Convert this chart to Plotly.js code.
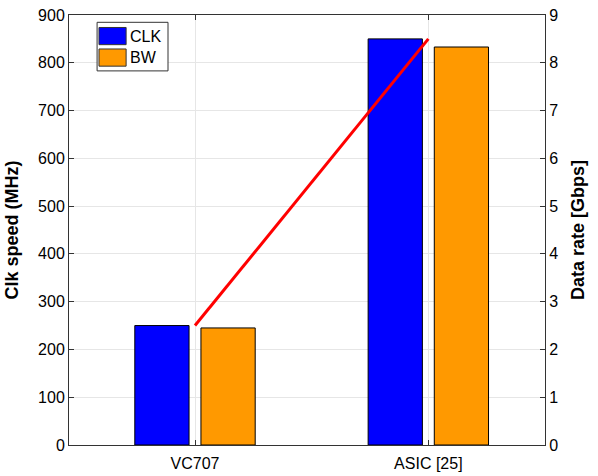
<!DOCTYPE html>
<html><head><meta charset="utf-8">
<script src="https://cdn.plot.ly/plotly-3.0.1.min.js"></script>
<style>body{margin:0;padding:0;background:#fff}#chart{width:598px;height:476px}</style>
</head><body><div id="chart"></div>
<script>
const categories = ['VC707', 'ASIC [25]'];
const seriesNames = ['CLK', 'BW'];
const clkMHz = [250, 850];
const bwMHz = [245, 833];
const dataRateGbps = [2.5, 8.5];
const seriesColors = ['#0000FF', '#FF9900'];
const leftTicks = [0,100,200,300,400,500,600,700,800,900];
const rightTicks = [0,1,2,3,4,5,6,7,8,9];

const font = 'Liberation Sans, Arial, Helvetica, sans-serif';
const traces = [
  {type:'bar', x:categories, y:clkMHz, name:seriesNames[0], marker:{color:seriesColors[0], line:{color:'#000', width:1}}, showlegend:false},
  {type:'bar', x:categories, y:bwMHz, name:seriesNames[1], marker:{color:seriesColors[1], line:{color:'#000', width:1}}, showlegend:false},
  {type:'scatter', mode:'lines', x:categories, y:dataRateGbps, yaxis:'y2', line:{color:'#FF0000', width:3}, showlegend:false}
];

const shapes = [
  {type:'rect', xref:'paper', yref:'paper', x0:0.059, x1:0.208, y0:0.870, y1:0.983, line:{color:'#333', width:1}, fillcolor:'#fff', layer:'above'}
];
const annotations = [];
seriesNames.forEach((n,i)=>{
  const yc = 0.951 - i*0.050;
  shapes.push({type:'rect', xref:'paper', yref:'paper', x0:0.063, x1:0.120, y0:yc-0.020, y1:yc+0.020, line:{color:'#333', width:1}, fillcolor:seriesColors[i], layer:'above'});
  annotations.push({xref:'paper', yref:'paper', x:0.124, y:yc, xanchor:'left', yanchor:'middle', text:n, showarrow:false, font:{family:font, size:16, color:'#000'}});
});

const layout = {
  width:598, height:476,
  margin:{l:69, r:53, t:15, b:31},
  paper_bgcolor:'#fff', plot_bgcolor:'#fff',
  barmode:'group', bargap:0.433, bargroupgap:0.18,
  showlegend:false,
  font:{family:font, size:16, color:'#000'},
  xaxis:{type:'category', range:[-0.54, 1.50], showgrid:true, gridcolor:'#e6e6e6', gridwidth:1,
    showline:true, linecolor:'#333', linewidth:1, mirror:'ticks', ticks:'inside', ticklen:5, tickcolor:'#333',
    tickfont:{family:font, size:16}, zeroline:false, ticklabelstandoff:4},
  yaxis:{range:[0,900], tickvals:leftTicks, showgrid:true, gridcolor:'#e6e6e6', gridwidth:1,
    showline:true, linecolor:'#333', linewidth:1, ticks:'inside', ticklen:5, tickcolor:'#333', zeroline:false,
    tickfont:{family:font, size:16},
    title:{text:'<b>Clk speed (MHz)</b>', font:{family:font, size:18}, standoff:14}},
  yaxis2:{overlaying:'y', side:'right', range:[0,9], tickvals:rightTicks, showgrid:false,
    showline:true, linecolor:'#333', linewidth:1, ticks:'inside', ticklen:5, tickcolor:'#333', zeroline:false,
    tickfont:{family:font, size:16},
    title:{text:'<b>Data rate [Gbps]</b>', font:{family:font, size:18}, standoff:14}},
  shapes:shapes, annotations:annotations
};
Plotly.newPlot('chart', traces, layout, {displayModeBar:false, staticPlot:true});
</script></body></html>
